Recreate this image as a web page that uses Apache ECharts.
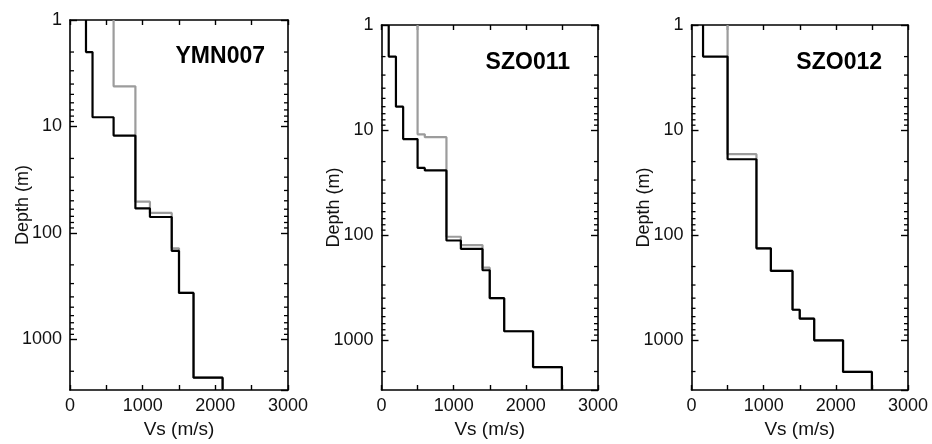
<!DOCTYPE html>
<html><head><meta charset="utf-8">
<script src="https://cdn.jsdelivr.net/npm/echarts@6/dist/echarts.min.js"></script>
<style>html,body{margin:0;padding:0;background:#fff}#c{width:932px;height:444px}</style>
</head><body><div id="c"></div>
<script>
// Station names
const stations = ['YMN007', 'SZO011', 'SZO012'];
// Layer Vs (m/s) and layer-bottom depths (m); black and gray profiles
const ymnBlackVs    = [220, 310, 600, 900, 1100, 1400, 1500, 1700, 2100];
const ymnBlackDepth = [2.0, 8.2, 12.2, 59, 71, 148, 367, 2300, 3000];
const ymnGrayVs     = [600, 900, 1100, 1400, 1500, 1700, 2100];
const ymnGrayDepth  = [4.2, 51, 65, 140, 367, 2300, 3000];
const szo11BlackVs    = [100, 200, 300, 500, 600, 900, 1100, 1400, 1500, 1700, 2100, 2500];
const szo11BlackDepth = [2.0, 6.0, 12.2, 23, 24.3, 113, 136, 217, 400, 827, 1815, 3000];
const szo11GrayVs     = [500, 600, 900, 1100, 1400, 1500, 1700, 2100, 2500];
const szo11GrayDepth  = [11, 11.7, 104, 125, 205, 400, 827, 1815, 3000];
const szo12BlackVs    = [160, 500, 900, 1100, 1400, 1500, 1700, 2100, 2500];
const szo12BlackDepth = [2.0, 19, 134, 220, 516, 628, 1010, 2020, 3000];
const szo12GrayVs     = [500, 900, 1100, 1400, 1500, 1700, 2100, 2500];
const szo12GrayDepth  = [17, 134, 220, 516, 628, 1010, 2020, 3000];
// Axis ranges / ticks
const vsMin = 0, vsMax = 3000, vsInterval = 1000;
const depthMin = 1, depthMax = 3000;
const depthMinorTicks = [2,3,4,5,6,7,8,9,20,30,40,50,60,70,80,90,200,300,400,500,600,700,800,900,2000];

const profiles = [
  {black: [ymnBlackVs, ymnBlackDepth], gray: [ymnGrayVs, ymnGrayDepth]},
  {black: [szo11BlackVs, szo11BlackDepth], gray: [szo11GrayVs, szo11GrayDepth]},
  {black: [szo12BlackVs, szo12BlackDepth], gray: [szo12GrayVs, szo12GrayDepth]}
];

function stepPoints(vs, depth) {
  const pts = [];
  let top = depthMin;
  for (let i = 0; i < vs.length; i++) {
    pts.push([vs[i], top]);
    pts.push([vs[i], depth[i]]);
    top = depth[i];
  }
  return pts;
}

const FONT = "'Liberation Sans', Arial, Helvetica, sans-serif";
const grids = [
  {left: 70, top: 20, width: 218, height: 371},
  {left: 381.5, top: 25, width: 216.5, height: 366},
  {left: 691.5, top: 25, width: 216.5, height: 366}
];
const titlePos = [
  {right: 932 - 265, top: 45},
  {right: 932 - 570, top: 51},
  {right: 932 - 882, top: 51}
];

const axisLine = {show: true, onZero: false, lineStyle: {color: '#000', width: 1.6}};
const xAxes = [], yAxes = [], series = [], graphics = [];
grids.forEach((g, i) => {
  xAxes.push({
    gridIndex: i, type: 'value', min: vsMin, max: vsMax, interval: vsInterval, position: 'bottom',
    axisLine, axisTick: {inside: true, length: 5, lineStyle: {color: '#000', width: 1.4}},
    minorTick: {show: true, splitNumber: 2, length: 5, lineStyle: {color: '#000', width: 1.4}},
    splitLine: {show: false},
    axisLabel: {fontSize: 18, fontFamily: FONT, color: '#111', margin: 7, formatter: v => String(v)},
    name: 'Vs (m/s)', nameLocation: 'middle', nameGap: 30, nameMoveOverlap: false,
    nameTextStyle: {fontSize: 19, fontFamily: FONT, color: '#111'}
  });
  xAxes.push({
    gridIndex: i, type: 'value', min: vsMin, max: vsMax, interval: vsInterval, position: 'top',
    axisLine, axisTick: {inside: true, length: 5, lineStyle: {color: '#000', width: 1.4}},
    minorTick: {show: true, splitNumber: 2, length: 5, lineStyle: {color: '#000', width: 1.4}},
    splitLine: {show: false}, axisLabel: {show: false}
  });
  yAxes.push({
    gridIndex: i, type: 'log', logBase: 10, min: depthMin, max: depthMax, inverse: true, position: 'left',
    axisLine, axisTick: {inside: true, length: 7, lineStyle: {color: '#000', width: 1.4}},
    splitLine: {show: false},
    axisLabel: {fontSize: 18, fontFamily: FONT, color: '#111', margin: 8, showMaxLabel: false,
      formatter: v => String(Math.round(v))},
    name: 'Depth (m)', nameLocation: 'middle', nameGap: 38, nameMoveOverlap: false,
    nameTextStyle: {fontSize: 18, fontFamily: FONT, color: '#111'}
  });
  yAxes.push({
    gridIndex: i, type: 'log', logBase: 10, min: depthMin, max: depthMax, inverse: true, position: 'right',
    axisLine, axisTick: {inside: true, length: 7, lineStyle: {color: '#000', width: 1.4}},
    splitLine: {show: false}, axisLabel: {show: false}
  });
  // minor log ticks on left & right
  series.push({
    type: 'custom', xAxisIndex: 2 * i, yAxisIndex: 2 * i, silent: true, clip: false,
    data: depthMinorTicks.map(v => [vsMin, v]),
    encode: {x: 0, y: 1},
    renderItem: (params, api) => {
      const v = api.value(1);
      const pL = api.coord([vsMin, v]);
      const pR = api.coord([vsMax, v]);
      return {type: 'group', children: [
        {type: 'line', shape: {x1: pL[0], y1: pL[1], x2: pL[0] + 4, y2: pL[1]}, style: {stroke: '#000', lineWidth: 1.3}},
        {type: 'line', shape: {x1: pR[0], y1: pR[1], x2: pR[0] - 4, y2: pR[1]}, style: {stroke: '#000', lineWidth: 1.3}}
      ]};
    }
  });
  const p = profiles[i];
  series.push({
    type: 'line', xAxisIndex: 2 * i, yAxisIndex: 2 * i, symbol: 'none', silent: true,
    data: stepPoints(p.gray[0], p.gray[1]),
    lineStyle: {color: '#9c9c9c', width: 2.2}, z: 3
  });
  series.push({
    type: 'line', xAxisIndex: 2 * i, yAxisIndex: 2 * i, symbol: 'none', silent: true,
    data: stepPoints(p.black[0], p.black[1]),
    lineStyle: {color: '#000', width: 2.2}, z: 4
  });
  graphics.push({
    type: 'text', right: titlePos[i].right, top: titlePos[i].top,
    style: {text: stations[i], font: "bold 23px " + FONT, fill: '#000'}
  });
});

const chart = echarts.init(document.getElementById('c'), null, {renderer: 'canvas'});
chart.setOption({
  animation: false,
  backgroundColor: '#fff',
  grid: grids,
  xAxis: xAxes,
  yAxis: yAxes,
  series: series,
  graphic: graphics
});
</script>
</body></html>
